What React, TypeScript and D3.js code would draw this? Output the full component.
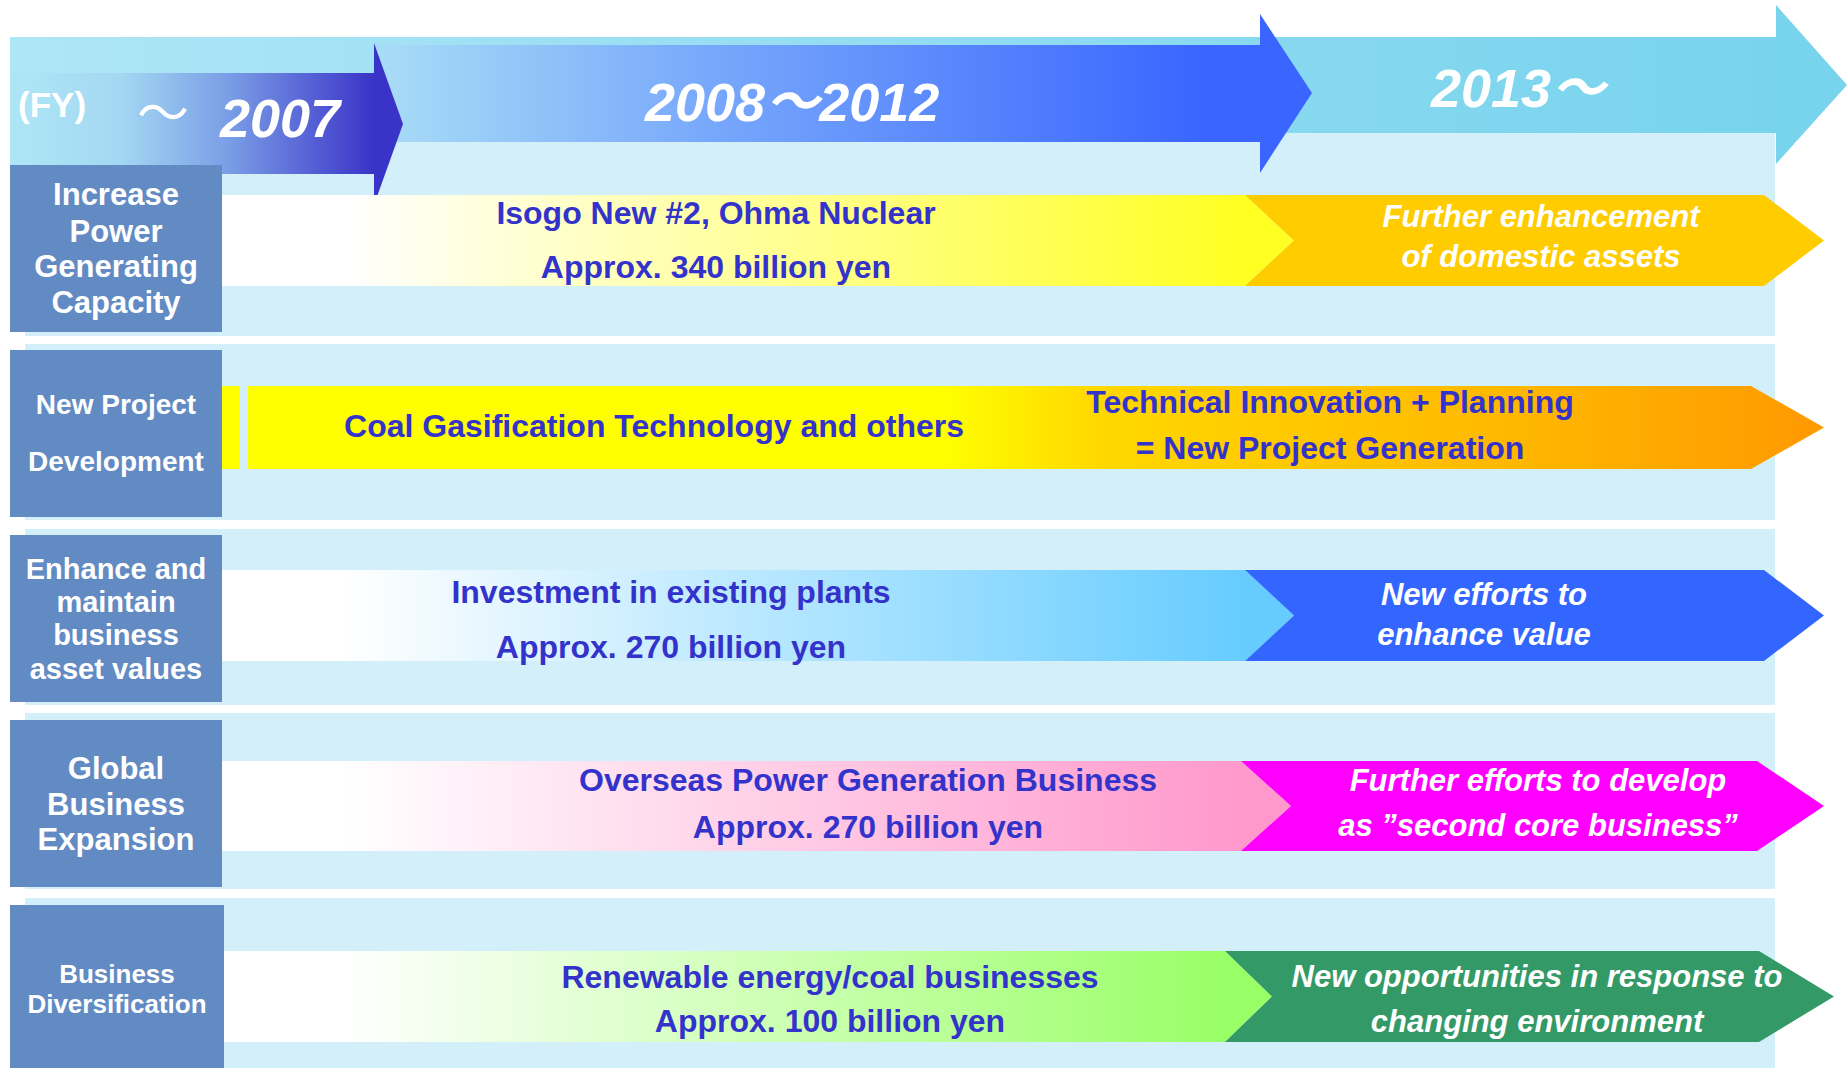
import React, { useEffect } from 'react';
import * as d3 from 'd3';

// ---------- content ----------
const periodLabels = ['2007', '2008～2012', '2013～'];
const fyLabel = '(FY)';
const rowLabels: string[][] = [
  ['Increase', 'Power', 'Generating', 'Capacity'],
  ['New Project', 'Development'],
  ['Enhance and', 'maintain', 'business', 'asset values'],
  ['Global', 'Business', 'Expansion'],
  ['Business', 'Diversification'],
];
const currentInitiatives: string[][] = [
  ['Isogo New #2, Ohma Nuclear', 'Approx. 340 billion yen'],
  ['Coal Gasification Technology and others'],
  ['Investment in existing plants', 'Approx. 270 billion yen'],
  ['Overseas Power Generation Business', 'Approx. 270 billion yen'],
  ['Renewable energy/coal businesses', 'Approx. 100 billion yen'],
];
const futureInitiatives: string[][] = [
  ['Further enhancement', 'of domestic assets'],
  ['Technical Innovation + Planning', '= New Project Generation'],
  ['New efforts to', 'enhance value'],
  ['Further efforts to develop', 'as ”second core business”'],
  ['New opportunities in response to', 'changing environment'],
];
const rowGradientEnds = ['#ffff22', '#ff9900', '#66ccff', '#ff99cc', '#99ff66'];
const rowChevronFills = ['#ffcc00', null, '#3366ff', '#ff00ff', '#339966'];

// ---------- layout ----------
const W = 1847;
const H = 1068;
const layout = [
  { panel: [133, 336], box: [165, 332], boxR: 222, band: [195, 286], boxBase: [205, 242, 277, 313], boxFont: 31,
    leftBase: [224, 278], rightBase: [227, 267], leftX: 716, rightX: 1541, notch: [1245, 1294], end: [1764, 1824] },
  { panel: [344, 520], box: [350, 517], boxR: 222, band: [386, 469], boxBase: [414, 471], boxFont: 28,
    leftBase: [437], rightBase: [413, 459], leftX: 654, rightX: 1330, notch: null, end: [1751, 1824] },
  { panel: [529, 705], box: [535, 702], boxR: 222, band: [570, 661], boxBase: [579, 612, 645, 679], boxFont: 29,
    leftBase: [603, 658], rightBase: [605, 645], leftX: 671, rightX: 1484, notch: [1245, 1294], end: [1764, 1824] },
  { panel: [713, 889], box: [720, 887], boxR: 222, band: [761, 851], boxBase: [779, 815, 850], boxFont: 31,
    leftBase: [791, 838], rightBase: [791, 836], leftX: 868, rightX: 1538, notch: [1241, 1291], end: [1757, 1824] },
  { panel: [898, 1068], box: [905, 1068], boxR: 224, band: [951, 1042], boxBase: [983, 1013], boxFont: 26,
    leftBase: [988, 1032], rightBase: [987, 1032], leftX: 830, rightX: 1537, notch: [1225, 1272], end: [1759, 1834] },
];

const FONT = '"Liberation Sans", Arial, "Noto Sans CJK JP", sans-serif';
const BLUE_TEXT = '#3333cc';
const BOX = '#628ac3';
const PANEL = '#d3eff9';

const poly = d3.line<[number, number]>().x(d => d[0]).y(d => d[1]);
const closed = (pts: [number, number][]) => poly(pts) + 'Z';

export default function App() {
  useEffect(() => {
    document.body.style.margin = '0';
  }, []);

  const bandLeft = 222;

  return (
    <svg width={W} height={H} viewBox={`0 0 ${W} ${H}`} style={{ display: 'block', background: '#fff' }} fontFamily={FONT}>
      <defs>
        <linearGradient id="gTop" gradientUnits="userSpaceOnUse" x1={10} x2={1776} y1={0} y2={0}>
          <stop offset="0" stopColor="#aee6f6" />
          <stop offset="1" stopColor="#78d3ed" />
        </linearGradient>
        <linearGradient id="g2007" gradientUnits="userSpaceOnUse" x1={10} x2={374} y1={0} y2={0}>
          <stop offset="0" stopColor="#aee6f6" />
          <stop offset="0.3" stopColor="#a4d8f2" />
          <stop offset="0.6" stopColor="#7a9ee6" />
          <stop offset="1" stopColor="#3a33c8" />
        </linearGradient>
        <linearGradient id="g2008" gradientUnits="userSpaceOnUse" x1={380} x2={1200} y1={0} y2={0}>
          <stop offset="0" stopColor="#a8dcf6" />
          <stop offset="0.4" stopColor="#78a8fb" />
          <stop offset="1" stopColor="#3a66ff" />
        </linearGradient>
        {layout.map((L, i) => {
          if (i === 1) {
            return (
              <linearGradient key={i} id={`gRow${i}`} gradientUnits="userSpaceOnUse" x1={248} x2={1824} y1={0} y2={0}>
                <stop offset="0" stopColor="#ffff00" />
                <stop offset="0.44" stopColor="#ffff00" />
                <stop offset="0.54" stopColor="#ffd800" />
                <stop offset="0.8" stopColor="#ffb800" />
                <stop offset="1" stopColor="#ff9900" />
              </linearGradient>
            );
          }
          const end = (L.notch as number[])[0];
          return (
            <linearGradient key={i} id={`gRow${i}`} gradientUnits="userSpaceOnUse" x1={bandLeft} x2={end} y1={0} y2={0}>
              <stop offset="0" stopColor="#ffffff" />
              <stop offset="0.12" stopColor="#ffffff" />
              <stop offset="1" stopColor={rowGradientEnds[i]} />
            </linearGradient>
          );
        })}
      </defs>

      {/* row background panels */}
      {layout.map((L, i) => (
        <rect key={`p${i}`} x={25} y={L.panel[0]} width={1775 - 25} height={L.panel[1] - L.panel[0]} fill={PANEL} />
      ))}

      {/* header: 2013~ arrow (whole band) */}
      <path d={closed([[10, 37], [1776, 37], [1776, 5], [1847, 85], [1776, 164], [1776, 133], [10, 133]])} fill="url(#gTop)" />
      {/* 2008~2012 arrow */}
      <path d={closed([[374, 45], [1260, 45], [1260, 14], [1312, 93], [1260, 173], [1260, 142], [374, 142]])} fill="url(#g2008)" />
      {/* ~2007 arrow */}
      <path d={closed([[10, 73], [374, 73], [374, 43], [403, 124], [374, 205], [374, 174], [10, 174]])} fill="url(#g2007)" />

      <text x={18} y={117} fill="#fff" fontWeight="bold" fontSize={35}>{fyLabel}</text>
      <text x={163} y={132} fill="#fff" fontSize={52} textAnchor="middle" fontFamily='"Noto Sans CJK JP", sans-serif'>～</text>
      <text x={220} y={137} fill="#fff" fontWeight="bold" fontStyle="italic" fontSize={54}>{periodLabels[0]}</text>
      <text x={645} y={121} fill="#fff" fontWeight="bold" fontStyle="italic" fontSize={54}>{periodLabels[1]}</text>
      <text x={1431} y={107} fill="#fff" fontWeight="bold" fontStyle="italic" fontSize={54}>{periodLabels[2]}</text>

      {/* rows */}
      {layout.map((L, i) => {
        const [t, b] = L.band;
        const mid = (t + b) / 2;
        const els: React.ReactNode[] = [];
        if (i === 1) {
          els.push(<rect key="small" x={222} y={t} width={18} height={b - t} fill="#ffff00" />);
          els.push(
            <path key="band" d={closed([[248, t], [L.end[0], t], [L.end[1], mid], [L.end[0], b], [248, b]])} fill={`url(#gRow${i})`} />
          );
        } else {
          const [nx, tipX] = L.notch as number[];
          els.push(
            <path key="band" d={closed([[L.boxR, t], [nx, t], [tipX, mid], [nx, b], [L.boxR, b]])} fill={`url(#gRow${i})`} />
          );
          els.push(
            <path key="chev" d={closed([[nx, t], [L.end[0], t], [L.end[1], mid], [L.end[0], b], [nx, b], [tipX, mid]])} fill={rowChevronFills[i] as string} />
          );
        }
        return <g key={`r${i}`}>{els}</g>;
      })}

      {/* label boxes */}
      {layout.map((L, i) => (
        <g key={`b${i}`}>
          <rect x={10} y={L.box[0]} width={L.boxR - 10} height={L.box[1] - L.box[0]} fill={BOX} />
          {rowLabels[i].map((s, j) => (
            <text key={j} x={(10 + L.boxR) / 2} y={L.boxBase[j]} textAnchor="middle" fill="#fff" fontWeight="bold" fontSize={L.boxFont}>{s}</text>
          ))}
        </g>
      ))}

      {/* texts */}
      {layout.map((L, i) => (
        <g key={`t${i}`}>
          {currentInitiatives[i].map((s, j) => (
            <text key={`l${j}`} x={L.leftX} y={L.leftBase[j]} textAnchor="middle" fill={BLUE_TEXT} fontWeight="bold" fontSize={32}>{s}</text>
          ))}
          {futureInitiatives[i].map((s, j) => (
            <text key={`r${j}`} x={L.rightX} y={L.rightBase[j]} textAnchor="middle"
              fill={i === 1 ? BLUE_TEXT : '#fff'} fontWeight="bold" fontStyle={i === 1 ? 'normal' : 'italic'} fontSize={i === 1 ? 32 : 31}>{s}</text>
          ))}
        </g>
      ))}
    </svg>
  );
}
